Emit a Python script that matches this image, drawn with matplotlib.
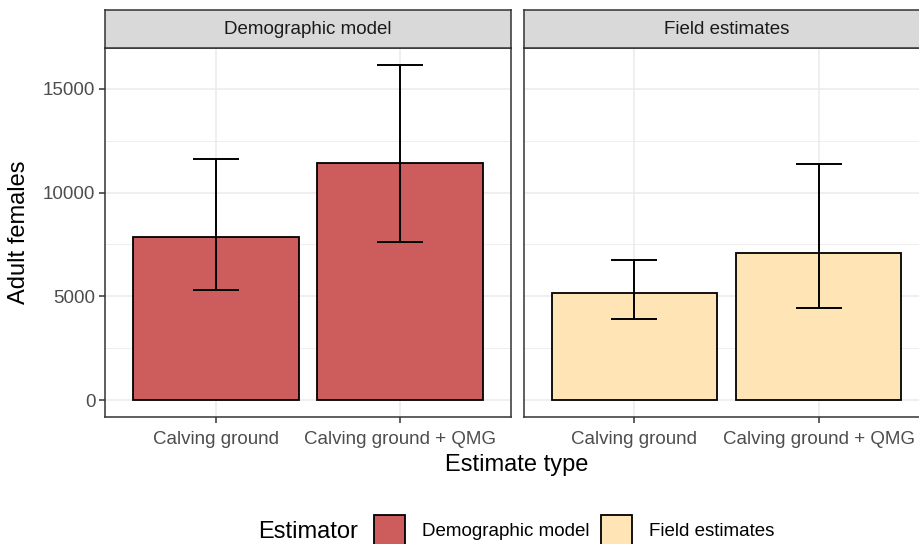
import matplotlib
matplotlib.use("Agg")
import matplotlib.pyplot as plt
from matplotlib.patches import Rectangle
import numpy as np

plt.rcParams['font.family'] = ['Liberation Sans', 'DejaVu Sans']

categories = ["Calving ground", "Calving ground + QMG"]
panels = ["Demographic model", "Field estimates"]
estimates = {
    "Demographic model": [7840, 11400],
    "Field estimates": [5150, 7070],
}
lower = {
    "Demographic model": [5290, 7600],
    "Field estimates": [3900, 4420],
}
upper = {
    "Demographic model": [11630, 16150],
    "Field estimates": [6730, 11350],
}
colors = {"Demographic model": "#CD5C5C", "Field estimates": "#FFE4B5"}
yticks = [0, 5000, 10000, 15000]
yminor = [2500, 7500, 12500]

W, H = 920, 544
fig = plt.figure(figsize=(W / 100, H / 100), dpi=100)

def fx(px):
    return px / W

def fy(py):
    return 1 - py / H

panel_px = [(105, 511), (524, 929)]
top_px, bot_px, strip_top = 48, 417, 10
edge = "#333333"
ymax_all = max(max(v) for v in upper.values())
ylo, yhi = -0.05 * ymax_all, 1.05 * ymax_all

for i, name in enumerate(panels):
    x0, x1 = panel_px[i]
    ax = fig.add_axes([fx(x0), fy(bot_px), fx(x1 - x0), fy(top_px) - fy(bot_px)])
    ax.set_xlim(-0.6, 1.6)
    ax.set_ylim(ylo, yhi)
    ax.set_yticks(yticks)
    ax.set_yticks(yminor, minor=True)
    ax.set_axisbelow(True)
    ax.grid(True, which='major', color='#EBEBEB', lw=1.1)
    ax.grid(True, which='minor', axis='y', color='#EBEBEB', lw=0.6)
    ax.bar(categories, estimates[name], width=0.9, color=colors[name],
           edgecolor='black', linewidth=1.3, zorder=2)
    xs = np.arange(len(categories))
    est = np.array(estimates[name])
    ax.errorbar(xs, est, yerr=[est - np.array(lower[name]), np.array(upper[name]) - est],
                fmt='none', ecolor='black', elinewidth=1.4, capsize=0, zorder=3)
    for xi, lo, hi in zip(xs, lower[name], upper[name]):
        ax.hlines([lo, hi], xi - 0.125, xi + 0.125, colors='black', lw=1.4, zorder=3)
    for s in ax.spines.values():
        s.set_color(edge)
        s.set_linewidth(1.1)
    ax.tick_params(axis='both', which='major', length=4, width=1.1, color=edge,
                   labelsize=13.5, labelcolor='#4D4D4D', pad=3)
    ax.tick_params(axis='x', which='major', pad=6)
    ax.tick_params(axis='y', which='minor', length=0)
    if i == 0:
        ax.set_yticklabels([str(t) for t in yticks])
    else:
        ax.tick_params(axis='y', which='major', length=0, labelleft=False)
    # strip
    sax = fig.add_axes([fx(x0), fy(top_px), fx(x1 - x0), fy(strip_top) - fy(top_px)])
    sax.set_facecolor('#D9D9D9')
    sax.set_xticks([])
    sax.set_yticks([])
    for s in sax.spines.values():
        s.set_color(edge)
        s.set_linewidth(1.1)
    sax.text(0.5, 0.5, name, ha='center', va='center', fontsize=13.5,
             color='#1A1A1A', transform=sax.transAxes)

fig.text(fx(19), fy(232), "Adult females", rotation=90, ha='center', va='center',
         fontsize=17, color='black')
fig.text(fx(517), fy(465), "Estimate type", ha='center', va='center',
         fontsize=17, color='black')

# legend
fig.text(fx(258), fy(532), "Estimator", ha='left', va='center', fontsize=17, color='black')
leg = [(374, "Demographic model"), (601, "Field estimates")]
for x0, name in leg:
    fig.patches.append(Rectangle((fx(x0), fy(548)), fx(31), fy(515) - fy(548),
                                 transform=fig.transFigure, facecolor=colors[name],
                                 edgecolor='black', linewidth=1.3))
    fig.text(fx(x0 + 48), fy(532), name, ha='left', va='center', fontsize=13.5,
             color='black')

fig.savefig("out.png", dpi=100)
